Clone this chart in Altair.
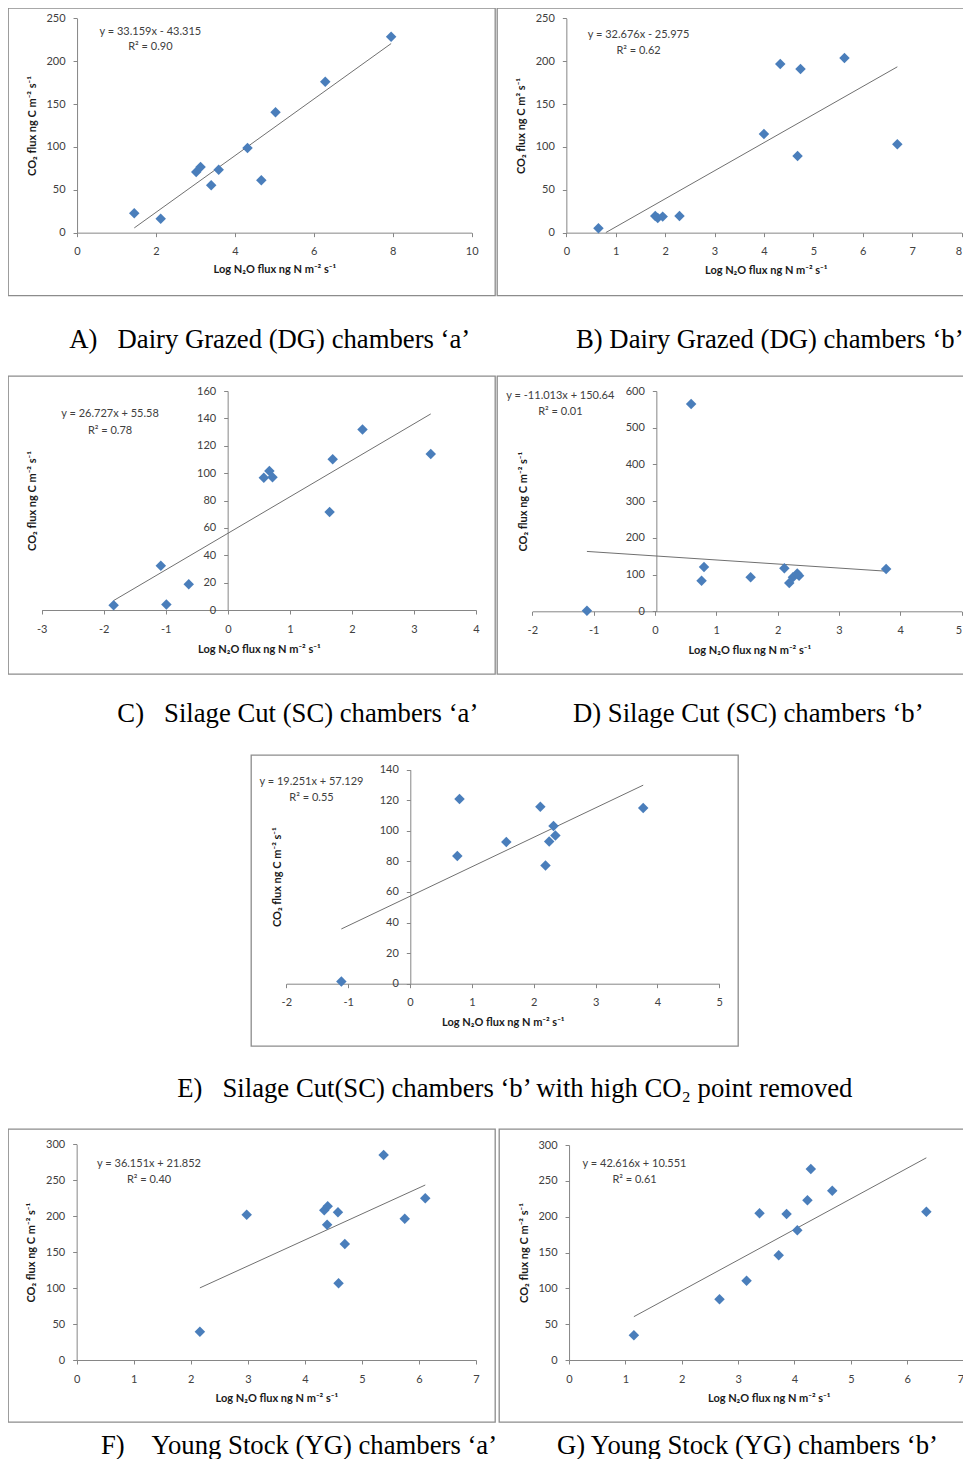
import altair as alt
import pandas as pd

# ---------------- data ----------------
a_x = [1.45, 2.12, 3.02, 3.13, 3.40, 3.59, 4.32, 4.67, 5.03, 6.29, 7.96]
a_y = [22.5, 16.3, 70.8, 76.6, 55.2, 73.5, 98.8, 61.0, 140.4, 176.1, 228.6]

b_x = [0.65, 1.80, 1.85, 1.95, 2.29, 4.00, 4.33, 4.68, 4.74, 5.63, 6.70]
b_y = [5.1, 19.4, 17.1, 18.7, 19.4, 115.1, 196.7, 89.4, 190.9, 203.7, 103.0]

c_x = [-1.84, -1.08, -0.99, -0.63, 0.58, 0.67, 0.72, 1.64, 1.69, 2.17, 3.27]
c_y = [3.4, 32.4, 4.1, 18.8, 96.7, 101.5, 97.0, 71.6, 110.1, 131.8, 114.0]

d_x = [-1.11, 0.59, 0.76, 0.80, 1.56, 2.11, 2.19, 2.25, 2.32, 2.35, 3.77]
d_y = [1.8, 564.6, 83.5, 120.7, 92.6, 117.1, 77.2, 93.0, 103.0, 97.0, 114.9]

e_x = [-1.11, 0.765, 0.80, 1.557, 2.107, 2.19, 2.25, 2.32, 2.35, 3.77]
e_y = [1.5, 83.5, 120.8, 92.7, 115.8, 77.4, 93.1, 103.1, 97.0, 114.9]

f_x = [2.16, 2.98, 4.34, 4.40, 4.39, 4.58, 4.59, 4.70, 5.38, 5.75, 6.11]
f_y = [39.4, 202.1, 208.2, 213.7, 188.2, 205.4, 106.6, 161.3, 285.1, 196.6, 224.8]

g_x = [1.15, 2.67, 3.15, 3.38, 3.72, 3.86, 4.05, 4.23, 4.29, 4.67, 6.34]
g_y = [34.4, 84.7, 110.7, 204.7, 146.0, 203.7, 180.9, 222.8, 266.5, 236.3, 207.0]

# trend line extents (x where the drawn trend line starts / ends)
trend_extents = [[1.45, 7.96], [0.80, 6.70], [-1.84, 3.27], [-1.11, 3.77],
                 [-1.11, 3.77], [2.16, 6.11], [1.15, 6.34]]

equations = ["y = 33.159x - 43.315", "y = 32.676x - 25.975", "y = 26.727x + 55.58",
             "y = -11.013x + 150.64", "y = 19.251x + 57.129", "y = 36.151x + 21.852",
             "y = 42.616x + 10.551"]
r2_labels = ["R\u00b2 = 0.90", "R\u00b2 = 0.62", "R\u00b2 = 0.78", "R\u00b2 = 0.01",
             "R\u00b2 = 0.55", "R\u00b2 = 0.40", "R\u00b2 = 0.61"]

NB = "\u00a0"
captions = [
    "A)" + NB * 3 + "Dairy Grazed (DG) chambers \u2018a\u2019",
    "B) Dairy Grazed (DG) chambers \u2018b\u2019",
    "C)" + NB * 3 + "Silage Cut (SC) chambers \u2018a\u2019",
    "D) Silage Cut (SC) chambers \u2018b\u2019",
    "E)" + NB * 3 + "Silage Cut(SC) chambers \u2018b\u2019 with high CO\u2082 point removed",
    "F)" + NB * 4 + "Young Stock (YG) chambers \u2018a\u2019",
    "G) Young Stock (YG) chambers \u2018b\u2019",
]

x_domains = [[0, 10], [0, 8], [-3, 4], [-2, 5], [-2, 5], [0, 7], [0, 7]]
y_domains = [[0, 250], [0, 250], [0, 160], [0, 600], [0, 140], [0, 300], [0, 300]]
x_ticks = [[0, 2, 4, 6, 8, 10], list(range(0, 9)), list(range(-3, 5)),
           list(range(-2, 6)), list(range(-2, 6)), list(range(0, 8)), list(range(0, 8))]
y_ticks = [list(range(0, 251, 50)), list(range(0, 251, 50)), list(range(0, 161, 20)),
           list(range(0, 601, 100)), list(range(0, 141, 20)), list(range(0, 301, 50)),
           list(range(0, 301, 50))]

XT = "Log N\u2082O flux ng N m\u207b\u00b2 s\u207b\u00b9"
YT = "CO\u2082 flux ng C m\u207b\u00b2 s\u207b\u00b9"
YT_B = "CO\u2082 flux ng C m\u00b2 s\u207b\u00b9"
y_titles = [YT, YT_B, YT, YT, YT, YT, YT]

# ---------------- layout / styling (pixels) ----------------
FONT = "Lato"
AX = "#868686"
LAB = "#404040"
TIT = "#1a1a1a"
BLUE = "#4A7EBB"

# right-column panels: last x label right-aligned so it stays inside the page
geo = [
    dict(w=487, h=287.35, xr=[69.05, 463.65], yr=[224.65, 10.35], yoff=-69.05, xoff=-62.7,
         xt=(266.35, 36.7), yt=(-44.4, 117.5), eq=(142.35, 27.35, 15), cap=(61.35, 32),
         last=None),
    dict(w=480, h=287.35, xr=[69.35, 464.55], yr=[224.65, 10.35], yoff=-69.35, xoff=-62.7,
         xt=(268.7, 37.4), yt=(-44.6, 117.5), eq=(141.55, 30.05, 16), cap=(79, 32),
         last=8),
    dict(w=487, h=298, xr=[33.65, 468.05], yr=[234, 15], yoff=-219.65, xoff=-64,
         xt=(250.85, 39.3), yt=(-195, 124.5), eq=(102.05, 41.3, 16.4), cap=(109.35, 26.5),
         last=None),
    dict(w=480, h=298, xr=[35.35, 464.55], yr=[235.3, 15], yoff=-159.35, xoff=-62.7,
         xt=(252.35, 39), yt=(-133, 125.15), eq=(63.35, 23, 16.3), cap=(76, 26.5),
         last=5),
    dict(w=487, h=291, xr=[35.3, 468.3], yr=[228.7, 14.7], yoff=-159.3, xoff=-62.3,
         xt=(251.8, 38.3), yt=(-133, 121.7), eq=(60.5, 30, 15.7), cap=(-73.7, 29.5),
         last=None),
    dict(w=487, h=293, xr=[68.65, 468.05], yr=[231, 15.3], yoff=-68.65, xoff=-62,
         xt=(268.35, 38.7), yt=(-45, 123.15), eq=(141.05, 37.7, 16), cap=(93, 11),
         last=None),
    dict(w=480, h=293, xr=[70.05, 464.55], yr=[231, 16], yoff=-70.05, xoff=-62,
         xt=(269.7, 38.7), yt=(-44.7, 123.5), eq=(135.55, 37.7, 16), cap=(58, 11),
         last=7),
]

series = [(a_x, a_y), (b_x, b_y), (c_x, c_y), (d_x, d_y), (e_x, e_y), (f_x, f_y), (g_x, g_y)]


def panel(i):
    xs, ys = series[i]
    g = geo[i]
    df = pd.DataFrame({"x": xs, "y": ys})
    xscale = alt.Scale(domain=x_domains[i], range=g["xr"], nice=False, zero=False)
    yscale = alt.Scale(domain=y_domains[i], range=g["yr"], nice=False, zero=False)
    common = dict(grid=False, domainColor=AX, domainWidth=1, tickColor=AX, tickSize=4,
                  tickWidth=1, labelFont=FONT, labelFontSize=11, labelColor=LAB,
                  labelFlush=False, labelOverlap=False,
                  labelExpr="replace(datum.label, '\u2212', '-')",
                  titleFont=FONT, titleFontSize=11, titleFontWeight="bold",
                  titleColor=TIT, titleBaseline="middle", titleAlign="center")
    xextra = {}
    if g["last"] is not None:
        xextra["labelAlign"] = {"condition": {"test": "datum.value == %d" % g["last"],
                                              "value": "right"}, "value": "center"}
    xaxis = alt.Axis(values=x_ticks[i], offset=g["xoff"], title=XT, labelPadding=9,
                     titleX=g["xt"][0], titleY=g["xt"][1], **common, **xextra)
    yaxis = alt.Axis(values=y_ticks[i], offset=g["yoff"], title=y_titles[i], labelPadding=8,
                     titleX=g["yt"][0], titleY=g["yt"][1], **common)
    X = alt.X("x:Q", scale=xscale, axis=xaxis)
    Y = alt.Y("y:Q", scale=yscale, axis=yaxis)
    base = alt.Chart(df)
    trend = base.transform_regression("x", "y", extent=trend_extents[i]).mark_line(
        color="#707070", strokeWidth=1).encode(x=X, y=Y)
    pts = base.mark_point(shape="diamond", filled=True, size=110, color=BLUE,
                          opacity=1).encode(x=X, y=Y)
    ex, ey, lh = g["eq"]
    eq = alt.Chart(pd.DataFrame({"t": [equations[i]]})).mark_text(
        font=FONT, fontSize=11, color=LAB, align="center", baseline="alphabetic"
    ).encode(text="t:N", x=alt.value(ex), y=alt.value(ey))
    r2 = alt.Chart(pd.DataFrame({"t": [r2_labels[i]]})).mark_text(
        font=FONT, fontSize=11, color=LAB, align="center", baseline="alphabetic"
    ).encode(text="t:N", x=alt.value(ex), y=alt.value(ey + lh))
    cdx, coff = g["cap"]
    return alt.layer(trend, pts, eq, r2).properties(
        width=g["w"], height=g["h"],
        title=alt.TitleParams(text=captions[i], orient="bottom", anchor="start",
                              frame="group", dx=cdx, offset=coff,
                              font="Liberation Serif", fontSize=26.7,
                              fontWeight="normal", color="#000000", baseline="top"),
    )


def filler(width, height):
    # invisible, empty view used only to fix the size of a row / indent
    return alt.Chart(pd.DataFrame({"v": [0]})).transform_filter("false").mark_point().encode(
        x=alt.X("v:Q", axis=None), y=alt.Y("v:Q", axis=None)
    ).properties(width=width, height=height,
                 view=alt.ViewBackground(strokeWidth=0, strokeOpacity=0))


p = [panel(i) for i in range(7)]
row1 = alt.hconcat(p[0], p[1], filler(1, 366.35), spacing=0)
row2 = alt.hconcat(p[2], p[3], filler(1, 378), spacing=0)
row3 = alt.hconcat(filler(167.8, 373), p[4], spacing=0)
row4 = alt.hconcat(p[5], p[6], spacing=0)

chart = alt.vconcat(row1, row2, row3, row4, spacing=0).properties(
    autosize=alt.AutoSizeParams(type="none"),
    padding={"left": 0, "top": 0, "right": 955, "bottom": 1451},
).configure_view(stroke="#8c8c8c", strokeWidth=1.3)

chart.save("out.html", embed_options={"renderer": "svg", "actions": False})
